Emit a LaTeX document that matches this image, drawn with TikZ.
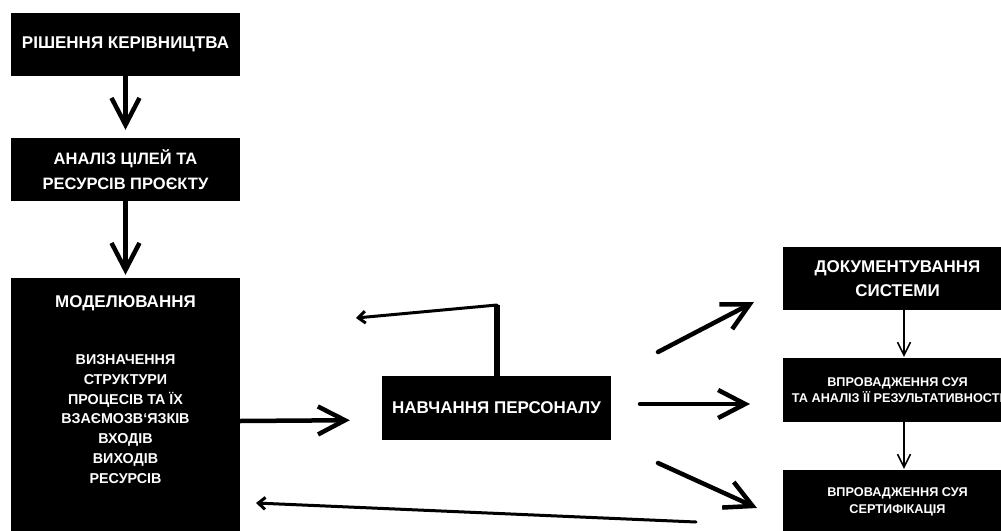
\documentclass[tikz,border=0pt]{standalone}
\usepackage{fontspec}
\setmainfont{Liberation Sans}
\usepackage{tikz}
\usetikzlibrary{positioning, arrows.meta}

\begin{document}
\begin{tikzpicture}[x=1pt, y=-1pt,
    blackbox/.style={fill=black, text=white, align=center, inner sep=0pt,
        minimum width=229pt, font=\bfseries\fontsize{17}{24}\selectfont},
    smallbox/.style={blackbox, font=\bfseries\fontsize{12.7}{15.5}\selectfont},
    bigarrow/.style={line width=4.5pt, line cap=round, -{Straight Barb[length=27pt, width=28pt]}},
    thinarrow/.style={line width=1.5pt, -{Straight Barb[length=13pt, width=13pt]}},
    backarrow/.style={line width=3pt, line cap=round, -{Straight Barb[length=7pt, width=12pt]}}]

    \useasboundingbox (0,0) rectangle (1001,530);

    % left column
    \node[blackbox, minimum height=63pt] (decision) at (125.5,44.5) {РІШЕННЯ КЕРІВНИЦТВА};
    \node[blackbox, minimum height=63pt, font=\bfseries\fontsize{16.5}{25}\selectfont] (goals) at (125.5,169.5) {АНАЛІЗ ЦІЛЕЙ ТА\\РЕСУРСІВ ПРОЄКТУ};
    \node[blackbox, minimum height=262pt] (model) at (125.5,409) {};
    \node[text=white, font=\bfseries\fontsize{17}{24}\selectfont] (modeltitle) at (125.5,303) {МОДЕЛЮВАННЯ};
    \node[text=white, align=center, font=\bfseries\fontsize{14.3}{19.8}\selectfont] (modelitems) at (125.5,419)
        {ВИЗНАЧЕННЯ\\СТРУКТУРИ\\ПРОЦЕСІВ ТА ЇХ\\ВЗАЄМОЗВ‘ЯЗКІВ\\ВХОДІВ\\ВИХОДІВ\\РЕСУРСІВ};

    \draw[bigarrow, shorten >=8pt] (decision) -- (goals);
    \draw[bigarrow, shorten >=3pt] (goals) -- (model);

    % centre
    \node[blackbox, minimum height=64pt] (training) at (496.5,408) {НАВЧАННЯ ПЕРСОНАЛУ};
    \draw[bigarrow, shorten >=32pt] ([yshift=-12pt]model.east) -- ([yshift=-12pt]training.west);

    \coordinate (fbcorner) at (497,305);
    \coordinate (fbtip) at (356,318);
    \draw[line width=6pt] (training.north) -- (training.north |- fbcorner);
    \draw[backarrow] (fbcorner) -- (fbtip);

    \coordinate (retstart) at (696,522);
    \coordinate (rettip) at (256,503);
    \draw[backarrow] (retstart) -- (rettip);

    % right column
    \node[blackbox, minimum height=63pt] (docs) at (897.5,278.5) {ДОКУМЕНТУВАННЯ\\СИСТЕМИ};
    \node[smallbox, minimum height=64pt] (impl) at (897.5,390) {ВПРОВАДЖЕННЯ СУЯ\\ТА АНАЛІЗ ЇЇ РЕЗУЛЬТАТИВНОСТІ};
    \node[smallbox, minimum height=63pt, font=\bfseries\fontsize{12.7}{17}\selectfont] (cert) at (897.5,501.5) {ВПРОВАДЖЕННЯ СУЯ\\СЕРТИФІКАЦІЯ};

    \draw[thinarrow, shorten >=1pt] ([xshift=6.5pt]docs.south) -- ([xshift=6.5pt]impl.north);
    \draw[thinarrow, shorten >=1pt] ([xshift=6.5pt]impl.south) -- ([xshift=6.5pt]cert.north);

    \coordinate (updocs) at (658,352);
    \coordinate (todocs) at (754,302);
    \coordinate (upimpl) at (640,404);
    \coordinate (toimpl) at (750,404);
    \coordinate (upcert) at (658,463);
    \coordinate (tocert) at (757,508);
    \draw[bigarrow] (updocs) -- (todocs);
    \draw[bigarrow] (upimpl) -- (toimpl);
    \draw[bigarrow] (upcert) -- (tocert);
\end{tikzpicture}
\end{document}
